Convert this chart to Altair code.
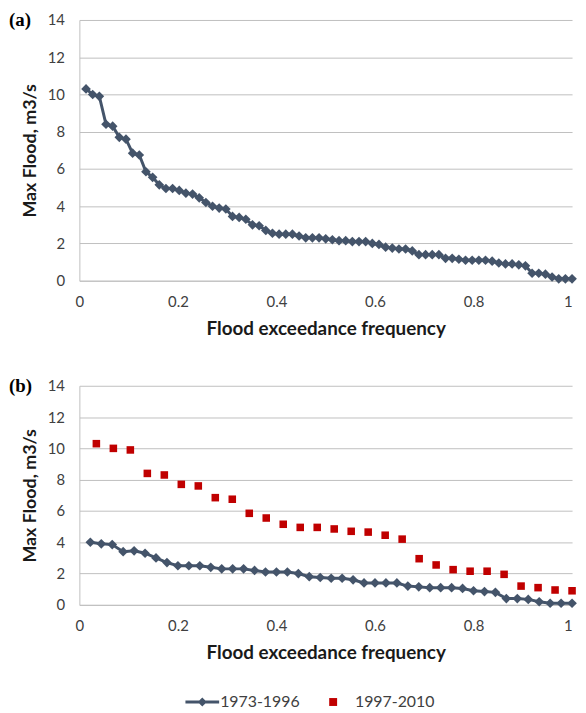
import altair as alt
import pandas as pd

# ---- data ----
series_names = ["1973-1996", "1997-2010"]

# panel (a): all years, ranked
flood_all = [10.3, 10.0, 9.9, 8.4, 8.3, 7.7, 7.6, 6.85, 6.75, 5.85, 5.55, 5.15,
             4.95, 4.95, 4.85, 4.7, 4.65, 4.45, 4.2, 4.0, 3.9, 3.85, 3.45, 3.4,
             3.3, 3.0, 2.95, 2.7, 2.55, 2.5, 2.5, 2.5, 2.4, 2.3, 2.3, 2.3, 2.25,
             2.2, 2.15, 2.15, 2.1, 2.1, 2.1, 2.0, 1.95, 1.8, 1.75, 1.7, 1.7, 1.6,
             1.4, 1.4, 1.4, 1.4, 1.2, 1.2, 1.15, 1.1, 1.1, 1.1, 1.1, 1.05, 0.95,
             0.9, 0.9, 0.85, 0.8, 0.4, 0.4, 0.35, 0.2, 0.1, 0.1, 0.1]

# panel (b): 1973-1996
flood_early = [4.0, 3.9, 3.85, 3.4, 3.45, 3.3, 3.0, 2.7, 2.5, 2.5, 2.5, 2.4,
               2.3, 2.3, 2.3, 2.2, 2.1, 2.1, 2.1, 2.0, 1.8, 1.75, 1.7, 1.7, 1.6,
               1.4, 1.4, 1.4, 1.4, 1.2, 1.15, 1.1, 1.1, 1.1, 1.05, 0.9, 0.85,
               0.8, 0.4, 0.4, 0.35, 0.2, 0.1, 0.1, 0.1]

# panel (b): 1997-2010
flood_late = [10.3, 10.0, 9.9, 8.4, 8.3, 7.7, 7.6, 6.85, 6.75, 5.85, 5.55,
              5.15, 4.95, 4.95, 4.85, 4.7, 4.65, 4.45, 4.2, 2.95, 2.55, 2.25,
              2.15, 2.15, 1.95, 1.2, 1.1, 0.95, 0.9]

x_ticks = [0, 0.2, 0.4, 0.6, 0.8, 1]
y_ticks = [0, 2, 4, 6, 8, 10, 12, 14]


def ranked(values, name):
    n = len(values)
    return pd.DataFrame({"freq": [(i + 1) / n for i in range(n)],
                         "flood": values, "series": name})


df_a = ranked(flood_all, "all")
df_early = ranked(flood_early, series_names[0])
df_late = ranked(flood_late, series_names[1])

BLUE = "#44546A"
RED = "#C00000"
FONT = "Lato"
W = 497

x_enc = alt.X("freq:Q", scale=alt.Scale(domain=[0, 1], nice=False),
              axis=alt.Axis(values=x_ticks, format="~g",
                            title="Flood exceedance frequency",
                            labelAlign={"expr": "datum.value == 1 ? 'right' : 'center'"},
                            grid=False, ticks=False, labelPadding=14,
                            titlePadding=10))
y_enc = alt.Y("flood:Q", scale=alt.Scale(domain=[0, 14], nice=False),
              axis=alt.Axis(values=y_ticks, title="Max Flood, m3/s",
                            titleFontSize=18,
                            ticks=False, labelPadding=15, titlePadding=8))

line_path = "M-1,-0.09H1V0.09H-1Z M0,-0.27L0.27,0L0,0.27L-0.27,0Z"
sq_path = "M-0.47,-0.235H0V0.235H-0.47Z"
legend = alt.Legend(
    title=None, orient="none", legendX=107, legendY=671, direction="horizontal",
    symbolSize=1156, symbolStrokeWidth=0, labelOffset=1, columnPadding=20,
    symbolOpacity=1,
    labelFont=FONT, labelFontSize=16, labelColor="#404040",
    symbolType={"expr": "datum.value === '1973-1996' ? '" + line_path +
                "' : '" + sq_path + "'"})
color_enc = alt.Color("series:N",
                      scale=alt.Scale(domain=series_names, range=[BLUE, RED]),
                      legend=legend)


def panel_label(txt):
    return alt.Chart(pd.DataFrame({"t": [txt]})).mark_text(
        font="Liberation Serif", fontWeight="bold", fontSize=19,
        align="left", baseline="middle", color="#000000"
    ).encode(text="t:N", x=alt.value(-71), y=alt.value(0))


# panel (a)
a_line = alt.Chart(df_a).mark_line(color=BLUE, strokeWidth=3).encode(x=x_enc, y=y_enc)
a_pts = alt.Chart(df_a).mark_point(shape="diamond", filled=True, size=95,
                                   opacity=1, color=BLUE).encode(x=x_enc, y=y_enc)
chart_a = alt.layer(a_line, a_pts, panel_label("(a)")).properties(width=W, height=263)

# panel (b)
b_line = alt.Chart(df_early).mark_line(color=BLUE, strokeWidth=3).encode(x=x_enc, y=y_enc)
b_pts = alt.Chart(df_early).mark_point(shape="diamond", filled=True, size=95,
                                       opacity=1).encode(x=x_enc, y=y_enc, color=color_enc)
b_sq = alt.Chart(df_late).mark_point(shape="square", filled=True, size=58,
                                     opacity=1).encode(x=x_enc, y=y_enc, color=color_enc)
chart_b = alt.layer(b_line, b_pts, b_sq, panel_label("(b)")).properties(width=W, height=221)

chart = alt.vconcat(chart_a, chart_b, spacing=39).properties(
    padding={"top": 0, "left": 1, "right": 0, "bottom": 0}
).configure_view(stroke=None).configure_axis(
    labelFont=FONT, labelFontSize=15, labelColor="#404040",
    titleFont=FONT, titleFontSize=19, titleFontWeight="bold", titleColor="#1a1a1a",
    gridColor="#BFBFBF", gridWidth=1, domainColor="#BFBFBF", domainWidth=1
)

chart.save("out.html", embed_options={"renderer": "svg", "actions": False})
